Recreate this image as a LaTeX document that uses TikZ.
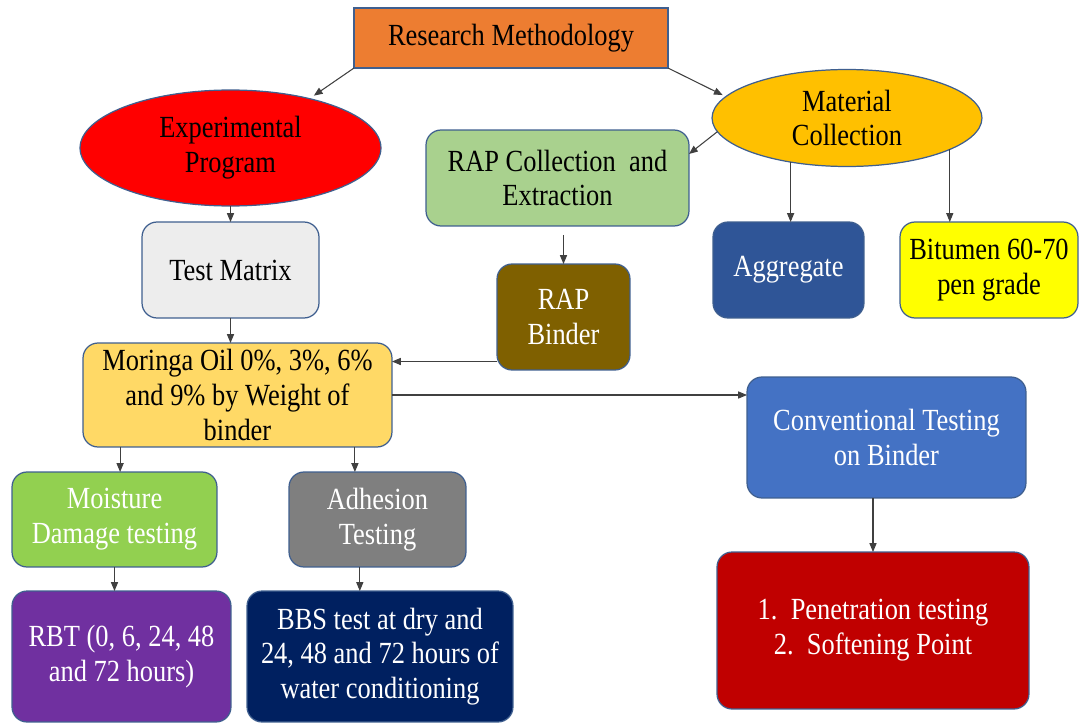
\documentclass[tikz,border=0pt]{standalone}
\usepackage{fontspec}
\setmainfont{Liberation Serif}
\usetikzlibrary{shapes.geometric,arrows.meta,calc}
\definecolor{bordc}{HTML}{3F5F8F}
\definecolor{arrc}{HTML}{404040}
\definecolor{rmfill}{HTML}{ED7D31}
\definecolor{expfill}{HTML}{FF0000}
\definecolor{matfill}{HTML}{FFC000}
\definecolor{rapfill}{HTML}{A9D18E}
\definecolor{tmfill}{HTML}{EDEDED}
\definecolor{aggfill}{HTML}{2F5597}
\definecolor{bitfill}{HTML}{FFFF00}
\definecolor{rapbfill}{HTML}{7F6000}
\definecolor{morfill}{HTML}{FFD966}
\definecolor{convfill}{HTML}{4472C4}
\definecolor{moistfill}{HTML}{92D050}
\definecolor{adhfill}{HTML}{7F7F7F}
\definecolor{rbtfill}{HTML}{7030A0}
\definecolor{bbsfill}{HTML}{002060}
\definecolor{penfill}{HTML}{C00000}
\newcommand{\sq}[1]{\scalebox{0.86}[1]{#1}}
\tikzset{
  base/.style={draw=bordc, line width=0.7pt, align=center, inner sep=0pt, outer sep=0pt,
    font=\fontsize{17.5}{19.8}\selectfont},
  sq/.style={base, rectangle},
  rbox/.style={base, rectangle, rounded corners=0.3cm},
  ell/.style={base, ellipse},
  wt/.style={text=white},
  arr/.style={draw=arrc, line width=0.6pt, -{Triangle[length=5pt,width=4pt]}},
}
\begin{document}
\begin{tikzpicture}[x=0.02cm, y=-0.02cm]
\useasboundingbox (0,0) rectangle (1079,723);
% nodes
\node[sq, fill=rmfill, minimum width=6.28cm, minimum height=1.2cm] (rm) at (511,38) {\sq{Research Methodology}};
\node[ell, fill=expfill, minimum width=6.02cm, minimum height=2.32cm] (exp) at (230.5,148) {\sq{Experimental}\\\sq{Program}};
\node[ell, fill=matfill, minimum width=5.4cm, minimum height=1.94cm] (mat) at (847,118) {\sq{Material}\\\sq{Collection}};
\node[rbox, fill=rapfill, minimum width=5.26cm, minimum height=1.92cm] (rap) at (557.5,178) {\sq{RAP Collection\ \ and}\\\sq{Extraction}};
\node[rbox, fill=tmfill, minimum width=3.54cm, minimum height=1.92cm] (tm) at (230.5,270) {\sq{Test Matrix}};
\node[rbox, wt, fill=aggfill, minimum width=3.02cm, minimum height=1.92cm] (agg) at (788.5,270) {\sq{Aggregate}};
\node[rbox, fill=bitfill, minimum width=3.56cm, minimum height=1.92cm] (bit) at (989,270) {\sq{Bitumen 60-70}\\\sq{pen grade}};
\node[rbox, wt, fill=rapbfill, minimum width=2.66cm, minimum height=2.12cm] (rapb) at (563.5,317) {\sq{RAP}\\\sq{Binder}};
\node[rbox, fill=morfill, minimum width=6.18cm, minimum height=2.08cm] (mor) at (237.5,395) {\sq{Moringa Oil 0\%, 3\%, 6\%}\\\sq{and 9\% by Weight of}\\\sq{binder}};
\node[rbox, wt, fill=convfill, minimum width=5.58cm, minimum height=2.42cm] (conv) at (886.5,437.5) {\sq{Conventional Testing}\\\sq{on Binder}};
\node[rbox, wt, fill=moistfill, minimum width=4.1cm, minimum height=1.9cm] (moist) at (114.5,519.5) {\sq{Moisture}\\\sq{Damage testing}};
\node[rbox, wt, fill=adhfill, minimum width=3.54cm, minimum height=1.9cm] (adh) at (377.5,519.5) {\sq{Adhesion}\\\sq{Testing}};
\node[rbox, wt, fill=rbtfill, minimum width=4.38cm, minimum height=2.62cm] (rbt) at (121.5,656.5) {\sq{RBT (0, 6, 24, 48}\\\sq{and 72 hours)}};
\node[rbox, wt, fill=bbsfill, minimum width=5.32cm, minimum height=2.62cm] (bbs) at (380,656.5) {\sq{BBS test at dry and}\\\sq{24, 48 and 72 hours of}\\\sq{water conditioning}};
\node[rbox, wt, fill=penfill, minimum width=6.24cm, minimum height=3.14cm] (pen) at (873,630.5) {\sq{1.\ \ Penetration testing}\\\sq{2.\ \ Softening Point}};
% helper coordinates
\coordinate (rapin) at ($(rap.north east)!0.25!(rap.south east)$);
\coordinate (rapbout) at ($(rapb.north west)!0.92!(rapb.south west)$);
\coordinate (morA) at ($(mor.south west)!0.12!(mor.south east)$);
\coordinate (morB) at ($(mor.south west)!0.88!(mor.south east)$);
\coordinate (adhout) at ($(adh.south west)!0.40!(adh.south east)$);
% connectors
\draw[arr, shorten >=3pt] (rm.south west) -- (exp.32);
\draw[arr, shorten >=2pt] (rm.south east) -- (mat.170);
\draw[arr] (mat.186) -- (rapin);
\draw[arr] (exp.south) -- (tm.north);
\draw[arr] (tm.south) -- (tm.south |- mor.north);
\draw[arr, shorten <=5pt] (rapb.north |- rap.south) -- (rapb.north);
\draw[arr] (mat.-142.3) -- (mat.-142.3 |- agg.north);
\draw[arr] (mat.-17.6) -- (mat.-17.6 |- bit.north);
\draw[arr] (rapbout) -- (rapbout -| mor.east);
\draw[arr] (mor.east) -- (mor.east -| conv.west);
\draw[arr] (morA) -- (morA |- moist.north);
\draw[arr] (morB) -- (morB |- adh.north);
\draw[arr] (moist.south) -- (moist.south |- rbt.north);
\draw[arr] (adhout) -- (adhout |- bbs.north);
\draw[arr] (pen.north |- conv.south) -- (pen.north);
\end{tikzpicture}
\end{document}
